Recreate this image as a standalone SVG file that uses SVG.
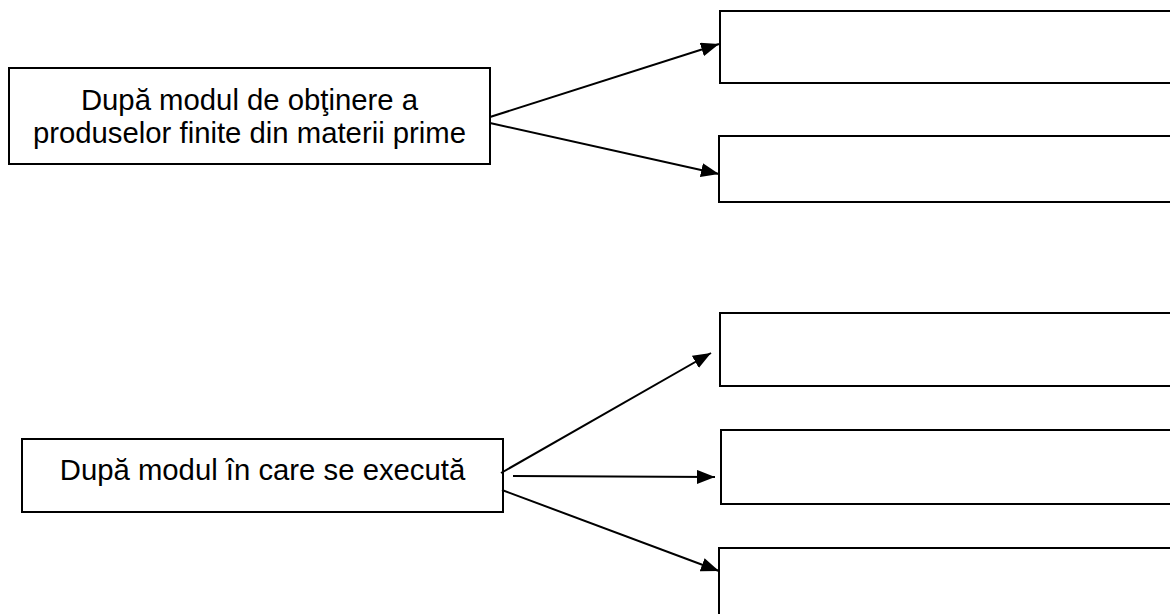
<svg xmlns="http://www.w3.org/2000/svg" width="1170" height="614" viewBox="0 0 1170 614">
<style>
.box{fill:#fff;stroke:#000;stroke-width:2}
.lbl{font-family:"Liberation Sans",Arial,sans-serif;font-size:29.3px;fill:#000;text-anchor:middle}
.con{stroke:#000;stroke-width:2;fill:none;marker-end:url(#ah)}
</style>
<defs>
<marker id="ah" viewBox="0 0 18 14" refX="18" refY="7" markerWidth="18" markerHeight="14" markerUnits="userSpaceOnUse" orient="auto">
<path d="M0,0 L18,7 L0,14 z" fill="#000"/>
</marker>
</defs>
<rect width="1170" height="614" fill="#fff"/>
<g id="node-top">
<rect class="box" x="9" y="68" width="481" height="96"/>
<text class="lbl" x="249.5" y="110">După modul de obţinere a</text>
<text class="lbl" x="249.5" y="143">produselor finite din materii prime</text>
</g>
<g id="node-bottom">
<rect class="box" x="22" y="439" width="481" height="73"/>
<text class="lbl" x="262.5" y="480">După modul în care se execută</text>
</g>
<g id="node-r1"><rect class="box" x="720" y="11" width="470" height="72"/></g>
<g id="node-r2"><rect class="box" x="719" y="136" width="470" height="66"/></g>
<g id="node-r3"><rect class="box" x="720" y="313" width="470" height="73"/></g>
<g id="node-r4"><rect class="box" x="721" y="430" width="470" height="74"/></g>
<g id="node-r5"><rect class="box" x="719" y="548" width="470" height="80"/></g>
<g id="connectors">
<line class="con" x1="490" y1="117" x2="719" y2="44"/>
<line class="con" x1="490" y1="123" x2="719" y2="174"/>
<line class="con" x1="501" y1="473" x2="711" y2="353"/>
<line class="con" x1="513" y1="476" x2="715" y2="477"/>
<line class="con" x1="502" y1="490" x2="719" y2="571"/>
</g>
</svg>
